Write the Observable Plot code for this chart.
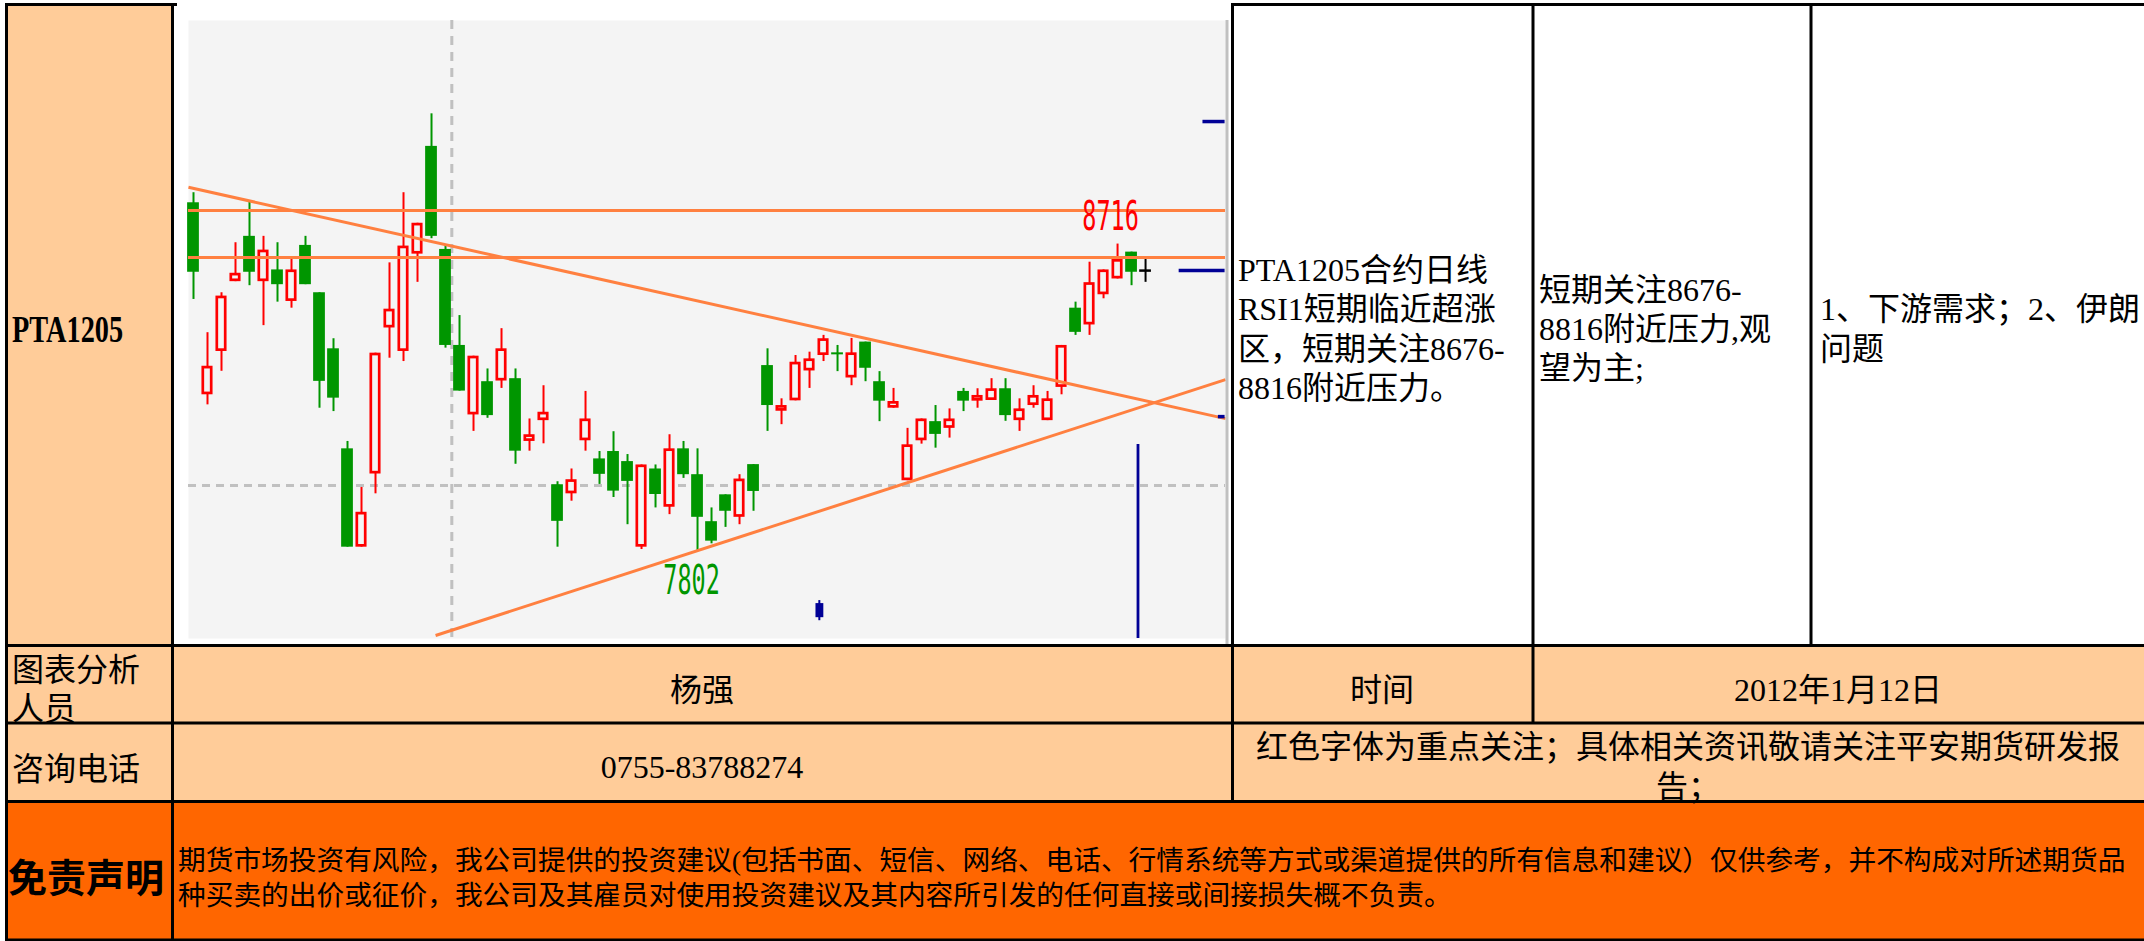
<!DOCTYPE html>
<html>
<head>
<meta charset="utf-8">
<script src="https://cdn.jsdelivr.net/npm/d3@7"></script>
<script src="https://cdn.jsdelivr.net/npm/@observablehq/plot@0.6"></script>
<style>
html, body { margin: 0; padding: 0; background: #fff; }
#page { position: relative; width: 2144px; height: 941px; overflow: hidden; background: #fff; }
#page svg.layer { position: absolute; left: 0; top: 0; }
#chart { position: absolute; left: 173px; top: 0; width: 1059px; height: 645px; }
</style>
</head>
<body>
<div id="page"></div>
<script>
// ---------------- data ----------------
// daily candles of PTA1205 (oldest -> newest), bar index = position
const opens  = [8839,8267,8396,8604,8739,8604,8639,8545,8712,8571,8404,8106,7813,8031,8466,8396,8686,9007,8700,8414,8207,8306,8308,8315,8128,8190,7999,7972,8130,8076,8098,8068,7813,8046,7932,8106,8029,7889,7969,7902,8059,8354,8218,8249,8338,8384,8392,8317,8424,8306,8227,8011,8130,8187,8167,8277,8248,8250,8285,8190,8235,8190,8289,8525,8475,8565,8612,8692,8637];
const highs  = [8869,8452,8571,8720,8841,8739,8720,8670,8739,8571,8434,8128,7991,8391,8660,8869,8778,9104,8712,8503,8382,8344,8464,8344,8195,8294,8008,8046,8277,8098,8157,8089,8058,8058,8148,8128,8106,7930,7969,8029,8059,8404,8255,8384,8394,8444,8414,8435,8424,8336,8286,8167,8195,8235,8225,8286,8285,8315,8315,8255,8294,8277,8414,8543,8662,8639,8716,8692,8670];
const lows   = [8551,8237,8337,8604,8592,8473,8543,8525,8595,8227,8217,7813,7813,7972,8376,8366,8602,8732,8406,8278,8158,8197,8286,8060,8099,8121,7813,7950,8099,8000,7961,7880,7806,7930,7910,8018,7802,7823,7872,7880,7920,8158,8178,8249,8286,8366,8336,8294,8306,8187,8227,8011,8120,8108,8138,8217,8227,8250,8188,8158,8227,8190,8267,8444,8444,8553,8612,8592,8602];
const closes = [8632,8352,8561,8629,8632,8698,8595,8639,8595,8307,8257,7813,7917,8391,8522,8710,8778,8739,8414,8278,8382,8205,8404,8099,8148,8215,7890,8014,8195,8030,7980,8009,8058,7970,8106,8029,7902,7831,7920,8016,7979,8235,8235,8364,8374,8434,8386,8392,8346,8248,8247,8118,8195,8149,8195,8248,8265,8285,8205,8225,8265,8255,8414,8453,8601,8639,8670,8632,8637];

// resistance levels (8676-8816) and marked extremes
const resistLevels = [8816, 8676];
const highLabel = {i: 66, v: 8716};
const lowLabel  = {i: 36, v: 7802};

// trend lines: start/end (bar index, price)
const trendStartIdx = [-0.36, 17.29];
const trendStartVal = [8885, 7550];
const trendEndIdx   = [73.71, 73.71];
const trendEndVal   = [8196, 8312];

// dashed reference grid
const gridIdx = 18.45;
const gridVal = 7997;

// navy indicator marks
const navyBarIdx = 67.46, navyBarTop = 8119;
const navyDashVals  = [9081, 8637, 8202];
const navyDashStart = [72.1, 70.4, 73.2];
const navyMarkIdx = 44.7, navyMarkLow = 7594, navyMarkHigh = 7654;

// table texts
const col3Lines = ["PTA1205合约日线", "RSI1短期临近超涨", "区，短期关注8676-", "8816附近压力。"];
const col4Lines = ["短期关注8676-", "8816附近压力,观", "望为主;"];
const col5Lines = ["1、下游需求；2、伊朗", "问题"];
const noteLines = ["红色字体为重点关注；具体相关资讯敬请关注平安期货研发报", "告；"];
const disclaimerLines = [
  "期货市场投资有风险，我公司提供的投资建议(包括书面、短信、网络、电话、行情系统等方式或渠道提供的所有信息和建议）仅供参考，并不构成对所述期货品",
  "种买卖的出价或征价，我公司及其雇员对使用投资建议及其内容所引发的任何直接或间接损失概不负责。"
];

// ---------------- styles ----------------
const RED = "#FF0000", GREEN = "#009600", ORANGE = "#FF8040", NAVY = "#000096", GRID = "#C0C0C0", PANEL = "#F4F4F4";
const PEACH = "#FFCC99", DEEP = "#FF6600";
const FONT = "'Liberation Serif','Noto Sans CJK SC',serif";
const X_DOMAIN = [-0.357, 73.71];
const Y_DOMAIN = [7541, 9382];

const candles = opens.map((o, k) => ({i: k, o, h: highs[k], l: lows[k], c: closes[k]}));
const up = candles.filter(d => d.c > d.o);
const down = candles.filter(d => d.c < d.o);
const flat = candles.filter(d => d.c === d.o);
const trends = trendStartIdx.map((s, k) => ({x1: s, y1: trendStartVal[k], x2: trendEndIdx[k], y2: trendEndVal[k]}));
const navyDashes = navyDashVals.map((v, k) => ({v, s: navyDashStart[k]}));

const page = d3.select("#page");

// background fills
const bg = page.append("svg").attr("class", "layer").attr("width", 2144).attr("height", 941);
bg.append("rect").attr("x", 5).attr("y", 3).attr("width", 172).attr("height", 642).attr("fill", PEACH);
bg.append("rect").attr("x", 5).attr("y", 645).attr("width", 2139).attr("height", 156).attr("fill", PEACH);
bg.append("rect").attr("x", 5).attr("y", 801).attr("width", 2139).attr("height", 140).attr("fill", DEEP);

// chart
const chartDiv = page.append("div").attr("id", "chart").node();
const chart = Plot.plot({
  width: 1059, height: 645,
  marginLeft: 15, marginRight: 7, marginTop: 20, marginBottom: 7,
  x: {domain: X_DOMAIN, axis: null},
  y: {domain: Y_DOMAIN, axis: null},
  style: {background: "#fff"},
  marks: [
    Plot.frame({fill: PANEL, stroke: "none"}),
    Plot.ruleX([gridIdx], {stroke: GRID, strokeWidth: 3, strokeDasharray: "9,7"}),
    Plot.ruleY([gridVal], {stroke: GRID, strokeWidth: 3, strokeDasharray: "8,6"}),
    // wicks
    Plot.ruleX(down, {x: "i", y1: "l", y2: "h", stroke: GREEN, strokeWidth: 2}),
    Plot.ruleX(up, {x: "i", y1: "l", y2: "h", stroke: RED, strokeWidth: 2}),
    Plot.ruleX(flat, {x: "i", y1: "l", y2: "h", stroke: "black", strokeWidth: 2}),
    // bodies
    Plot.rect(down, {x1: d => d.i - 0.42, x2: d => d.i + 0.42, y1: "o", y2: "c", fill: GREEN}),
    Plot.rect(up, {x1: d => d.i - 0.3, x2: d => d.i + 0.3, y1: "o", y2: "c", fill: PANEL, stroke: RED, strokeWidth: 2.7, insetTop: 1.35, insetBottom: 1.35}),
    Plot.ruleY(flat, {y: "o", x1: d => d.i - 0.42, x2: d => d.i + 0.42, stroke: "black", strokeWidth: 2.5}),
    // orange resistance + trend lines
    Plot.ruleY(resistLevels, {stroke: ORANGE, strokeWidth: 3}),
    Plot.link(trends, {x1: "x1", y1: "y1", x2: "x2", y2: "y2", stroke: ORANGE, strokeWidth: 3}),
    // navy marks
    Plot.ruleX([navyBarIdx], {y1: navyBarTop, y2: Y_DOMAIN[0], stroke: NAVY, strokeWidth: 2.8}),
    Plot.ruleY(navyDashes, {y: "v", x1: "s", x2: 73.68, stroke: NAVY, strokeWidth: 3.5}),
    Plot.ruleX([navyMarkIdx], {y1: navyMarkLow, y2: navyMarkHigh, stroke: NAVY, strokeWidth: 2}),
    Plot.rect([navyMarkIdx], {x1: d => d - 0.24, x2: d => d + 0.32, y1: navyMarkLow + 9, y2: navyMarkHigh - 9, fill: NAVY}),
    // plot right border
    Plot.ruleX([X_DOMAIN[1]], {y1: Y_DOMAIN[1], y2: 7522, stroke: GRID, strokeWidth: 3, dx: 1.5}),
    // extreme labels
    Plot.text([highLabel], {x: "i", y: "v", text: d => String(d.v), fill: RED, fontFamily: "DejaVu Sans Mono", fontSize: 23.5, dx: -7, dy: -27}),
    Plot.text([lowLabel], {x: "i", y: "v", text: d => String(d.v), fill: GREEN, fontFamily: "DejaVu Sans Mono", fontSize: 23.5, dx: -6, dy: 30})
  ]
});
chartDiv.append(chart);
// tall, narrow label digits like the original terminal font
chart.querySelectorAll("text").forEach(t => {
  const b = t.getBBox();
  const cy = b.y + b.height / 2;
  const prev = t.getAttribute("transform") || "";
  t.setAttribute("transform", `${prev} translate(0,${cy}) scale(1,1.7) translate(0,${-cy})`);
});

// overlay: borders and texts
const ov = page.append("svg").attr("class", "layer").attr("width", 2144).attr("height", 941);
const hLines = [[5, 177, 3], [1231, 2144, 3], [5, 2144, 644], [5, 2144, 721.5], [5, 2144, 800], [5, 2144, 938.5]];
hLines.forEach(([a, b, y]) => ov.append("rect").attr("x", a).attr("y", y).attr("width", b - a).attr("height", 3).attr("fill", "#000"));
const vLines = [[5, 3, 941], [171, 3, 941], [1231, 3, 802], [1531.5, 3, 724], [1809.5, 3, 646]];
vLines.forEach(([x, a, b]) => ov.append("rect").attr("x", x).attr("y", a).attr("width", 3).attr("height", b - a).attr("fill", "#000"));

function txt(s, x, y, o = {}) {
  const {size = 32, anchor = "start", weight = "normal", family = FONT, sx = 1, fill = "#000"} = o;
  ov.append("text")
    .attr("transform", `translate(${x},${y}) scale(${sx},1)`)
    .attr("x", 0).attr("y", 0)
    .attr("text-anchor", anchor)
    .attr("font-family", family)
    .attr("font-size", size)
    .attr("font-weight", weight)
    .attr("fill", fill)
    .text(s);
}

txt("PTA1205", 12, 342, {size: 37, weight: "bold", sx: 0.765});
col3Lines.forEach((s, k) => txt(s, 1238, [281, 320, 360, 399][k]));
col4Lines.forEach((s, k) => txt(s, 1539, [301, 340, 379][k]));
col5Lines.forEach((s, k) => txt(s, 1820, [320, 360][k]));

txt("图表分析", 12, 681);
txt("人员", 12, 720);
txt("杨强", 702, 701, {anchor: "middle"});
txt("时间", 1382, 701, {anchor: "middle"});
txt("2012年1月12日", 1838, 701, {anchor: "middle"});

txt("咨询电话", 12, 780);
txt("0755-83788274", 702, 778, {anchor: "middle"});
txt(noteLines[0], 1688, 758, {anchor: "middle"});
txt(noteLines[1], 1688, 798, {anchor: "middle"});

txt("免责声明", 8, 892, {size: 39, weight: "bold", family: "'Noto Sans CJK SC',sans-serif"});
disclaimerLines.forEach((s, k) => txt(s, 178, [870, 905][k], {size: 27.7}));
</script>
</body>
</html>
